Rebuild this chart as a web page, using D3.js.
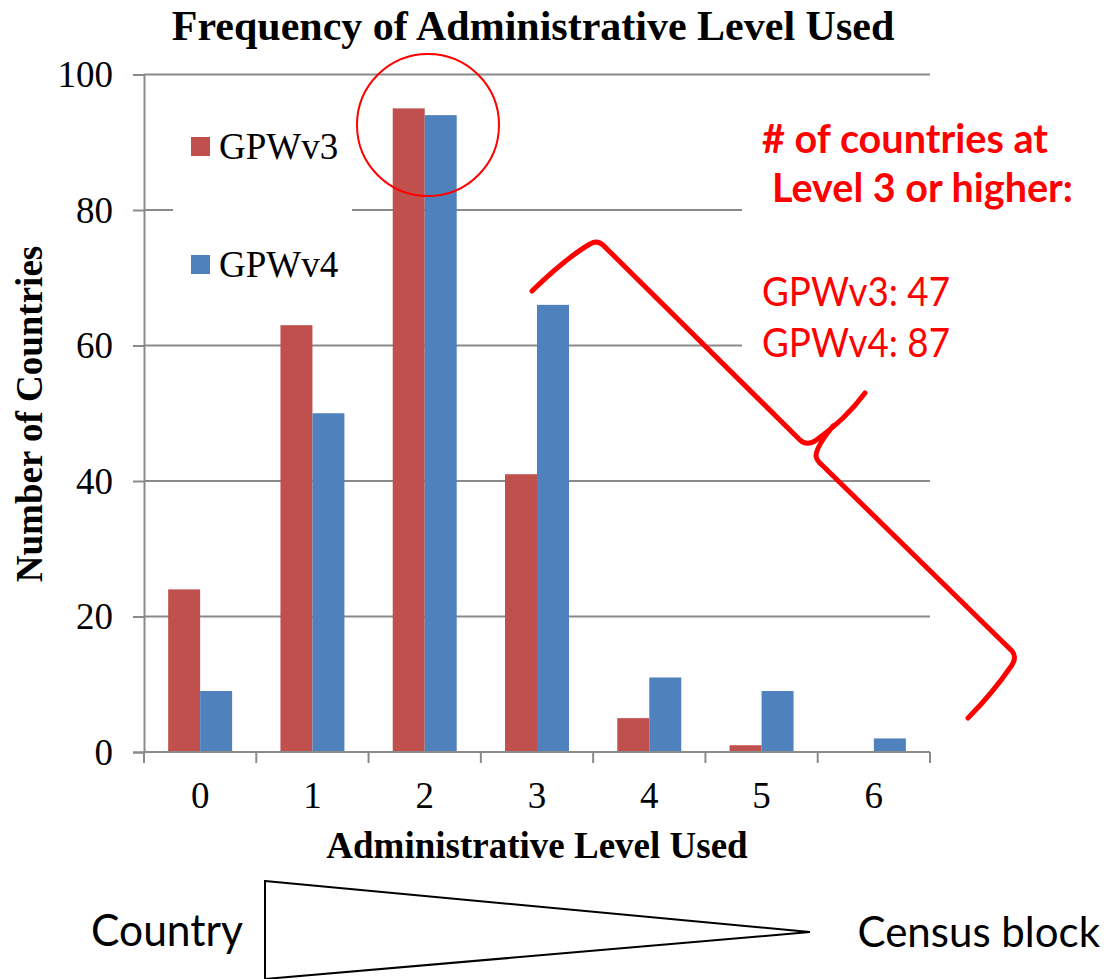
<!DOCTYPE html>
<html>
<head>
<meta charset="utf-8">
<script src="https://cdn.jsdelivr.net/npm/d3@7"></script>
<style>
  html, body { margin: 0; padding: 0; background: #fff; }
  svg { display: block; }
</style>
</head>
<body>
<svg id="chart" width="1107" height="979"></svg>
<script>
// data
const levels = [0, 1, 2, 3, 4, 5, 6];
const gpwv3 = [24, 63, 95, 41, 5, 1, 0];
const gpwv4 = [9, 50, 94, 66, 11, 9, 2];
const seriesNames = ['GPWv3', 'GPWv4'];
const yTicks = [0, 20, 40, 60, 80, 100];
const noteHead = ['# of countries at', 'Level 3 or higher:'];
const noteCounts = ['GPWv3: 47', 'GPWv4: 87'];

const colors = ['#c0504d', '#4f81bd'];
const gridColor = '#8a8a8a';
const serif = '"Liberation Serif", "Times New Roman", serif';
const sans = 'Lato, "Open Sans", sans-serif';

const svg = d3.select('#chart');

const x = d3.scaleBand().domain(levels).range([144, 930]).paddingInner(0).paddingOuter(0);
const xSub = d3.scaleBand().domain(seriesNames).range([0, x.bandwidth()]).paddingInner(0).paddingOuter(0.755);
const y = d3.scaleLinear().domain([0, 100]).range([752, 74.5]);

// gridlines
svg.append('g').selectAll('line')
    .data(yTicks.filter(d => d > 0))
    .enter().append('line')
    .attr('x1', 144).attr('x2', 930)
    .attr('y1', d => y(d)).attr('y2', d => y(d))
    .attr('stroke', gridColor).attr('stroke-width', 2);

// white boxes behind legend and note (they break the gridlines)
svg.append('rect').attr('x', 173).attr('y', 100).attr('width', 179).attr('height', 200).attr('fill', '#fff');
svg.append('rect').attr('x', 742).attr('y', 100).attr('width', 365).attr('height', 270).attr('fill', '#fff');

// bars
const series = [gpwv3, gpwv4];
series.forEach(function(vals, si) {
    svg.append('g').attr('class', 'series' + si)
        .selectAll('rect')
        .data(vals)
        .enter().append('rect')
        .attr('x', (d, i) => x(levels[i]) + xSub(seriesNames[si]))
        .attr('y', d => y(d))
        .attr('width', xSub.bandwidth())
        .attr('height', d => y(0) - y(d))
        .attr('fill', colors[si]);
});

// axes
const yAxis = svg.append('g').attr('transform', 'translate(144,0)')
    .call(d3.axisLeft(y).tickValues(yTicks).tickSize(11).tickFormat(''));
yAxis.select('.domain').attr('stroke', gridColor).attr('stroke-width', 2);
yAxis.selectAll('line').attr('stroke', gridColor).attr('stroke-width', 2);

svg.append('g').selectAll('text')
    .data(yTicks)
    .enter().append('text')
    .attr('x', 113).attr('y', d => y(d) + 12.5)
    .attr('text-anchor', 'end')
    .style('font-family', serif).style('font-size', '37px')
    .text(d => d);

const xb = svg.append('g');
xb.append('line').attr('x1', 144).attr('x2', 930).attr('y1', y(0)).attr('y2', y(0))
    .attr('stroke', gridColor).attr('stroke-width', 2);
xb.selectAll('.tk')
    .data(levels.concat([levels.length]))
    .enter().append('line')
    .attr('x1', (d, i) => 144 + i * x.step()).attr('x2', (d, i) => 144 + i * x.step())
    .attr('y1', y(0)).attr('y2', y(0) + 11)
    .attr('stroke', gridColor).attr('stroke-width', 2);
xb.selectAll('text')
    .data(levels)
    .enter().append('text')
    .attr('x', d => x(d) + x.bandwidth() / 2).attr('y', 808)
    .attr('text-anchor', 'middle')
    .style('font-family', serif).style('font-size', '37px')
    .text(d => d);

// titles
svg.append('text').attr('x', 533).attr('y', 40).attr('text-anchor', 'middle')
    .style('font-family', serif).style('font-size', '42px').style('font-weight', 'bold')
    .text('Frequency of Administrative Level Used');
svg.append('text').attr('x', 537).attr('y', 858).attr('text-anchor', 'middle')
    .style('font-family', serif).style('font-size', '37px').style('font-weight', 'bold')
    .text('Administrative Level Used');
svg.append('text').attr('transform', 'translate(42,414) rotate(-90)').attr('text-anchor', 'middle')
    .style('font-family', serif).style('font-size', '37px').style('font-weight', 'bold')
    .text('Number of Countries');

// legend
const legend = svg.append('g').selectAll('g')
    .data(seriesNames)
    .enter().append('g')
    .attr('transform', (d, i) => 'translate(191,' + (137 + i * 118) + ')');
legend.append('rect').attr('width', 19).attr('height', 19).attr('fill', (d, i) => colors[i]);
legend.append('text').attr('x', 28).attr('y', 22)
    .style('font-family', serif).style('font-size', '37px')
    .text(d => d);

// red circle around the peak
svg.append('circle').attr('cx', 428).attr('cy', 125).attr('r', 71)
    .attr('fill', 'none').attr('stroke', '#ff0000').attr('stroke-width', 2);

// curly brace
svg.append('path')
    .attr('d', 'M532,291 Q566,258 590,244 Q598,239 605,247 L800,440 Q806,446 815,441 Q845,420 865,393'
        + ' M833,426 Q816,447 816,456 Q817,461 822,465 L1012,651 Q1017,657 1012,665 Q992,694 968,718')
    .attr('fill', 'none').attr('stroke', '#ff0000').attr('stroke-width', 5)
    .attr('stroke-linecap', 'round').attr('stroke-linejoin', 'round');

// note text
svg.append('g').selectAll('text')
    .data(noteHead)
    .enter().append('text')
    .attr('x', (d, i) => i === 0 ? 762 : 772).attr('y', (d, i) => 153 + i * 49)
    .attr('textLength', (d, i) => i === 0 ? 286 : 301).attr('lengthAdjust', 'spacingAndGlyphs')
    .attr('fill', '#ff0000')
    .style('font-family', sans).style('font-size', '41px').style('font-weight', 'bold')
    .text(d => d);
svg.append('g').selectAll('text')
    .data(noteCounts)
    .enter().append('text')
    .attr('x', 762).attr('y', (d, i) => 306 + i * 51)
    .attr('textLength', 188).attr('lengthAdjust', 'spacingAndGlyphs')
    .attr('fill', '#ff0000')
    .style('font-family', sans).style('font-size', '41px')
    .text(d => d);

// bottom triangle
svg.append('path')
    .attr('d', 'M265,881 L810,932 L265,979 Z')
    .attr('fill', 'none').attr('stroke', '#000').attr('stroke-width', 2);
svg.append('text').attr('x', 91).attr('y', 946)
    .attr('textLength', 152).attr('lengthAdjust', 'spacingAndGlyphs')
    .style('font-family', sans).style('font-size', '45px')
    .text('Country');
svg.append('text').attr('x', 1100).attr('y', 947)
    .attr('text-anchor', 'end')
    .style('font-family', sans).style('font-size', '42px')
    .text('Census block');
</script>
</body>
</html>
